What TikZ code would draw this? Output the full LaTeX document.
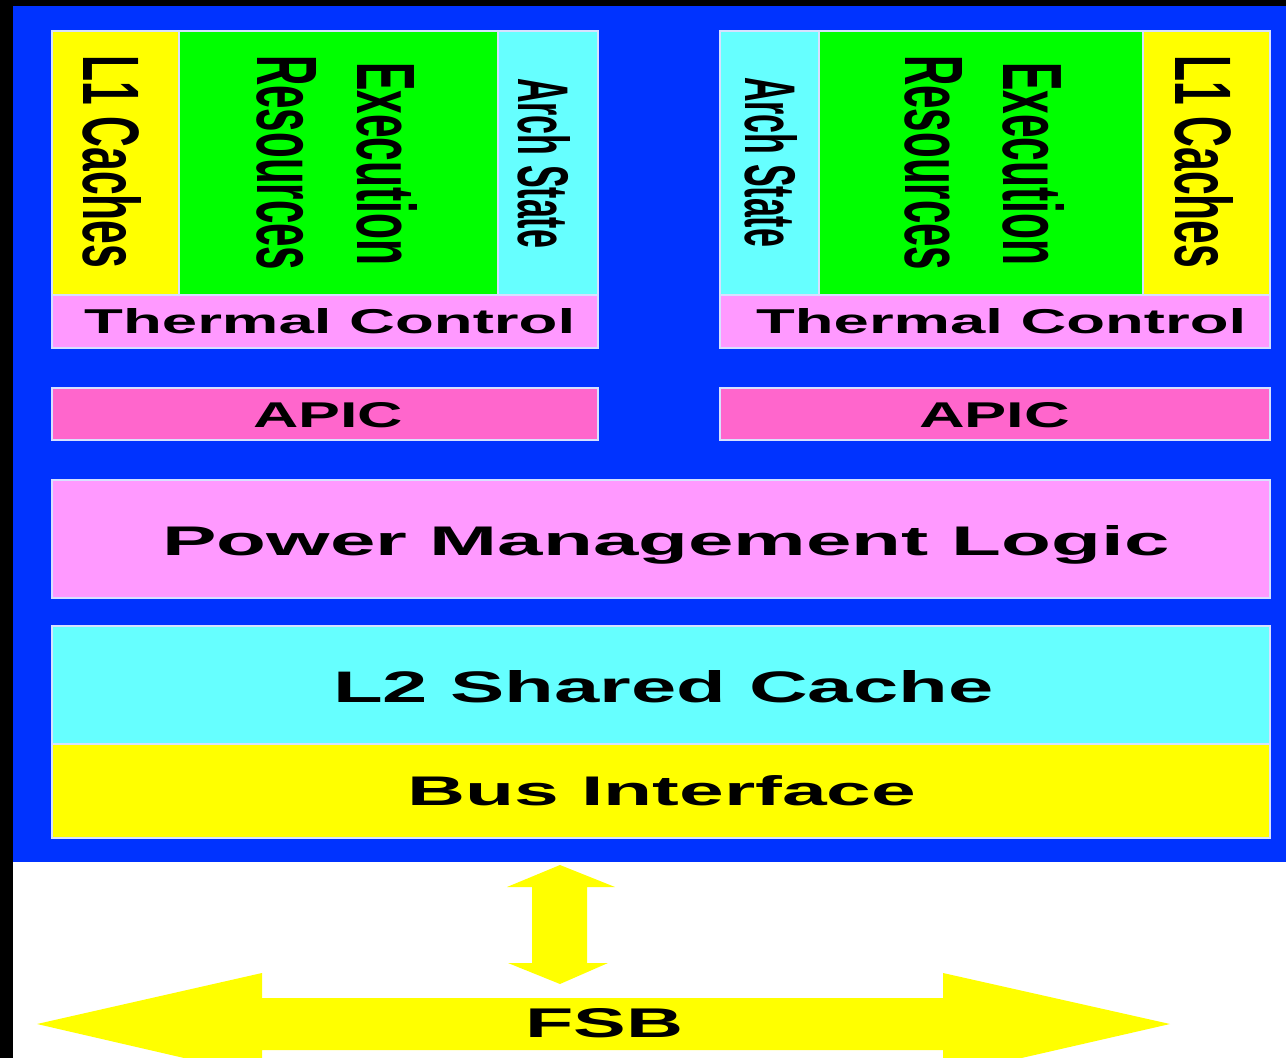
\documentclass[tikz,border=0pt]{standalone}
\usepackage{graphicx}
\usepackage{fontspec}
\setmainfont{Liberation Sans}
\definecolor{chipblue}{RGB}{0,51,255}
\definecolor{cyel}{RGB}{255,255,0}
\definecolor{cgreen}{RGB}{0,255,0}
\definecolor{ccyan}{RGB}{102,255,255}
\definecolor{cpink}{RGB}{255,153,255}
\definecolor{capic}{RGB}{255,102,204}
\definecolor{edgec}{RGB}{215,225,255}
\newcommand{\fitH}[3]{\resizebox{#1pt}{#2pt}{\bfseries #3}}
\newcommand{\fitV}[3]{\resizebox{#1pt}{#2pt}{\bfseries #3}}
\begin{document}
\begin{tikzpicture}[x=1pt,y=-1pt,
  blk/.style={draw=edgec, line width=1.3pt},
  vtxt/.style={rotate=-90, anchor=base west, inner sep=0pt},
  htxt/.style={anchor=base west, inner sep=0pt},
  arrowfill/.style={fill=cyel, draw=none}]
\useasboundingbox (0,0) rectangle (1286,1058);
\clip (0,0) rectangle (1286,1058);
% background
\fill[white] (0,0) rectangle (1286,1058);
\fill[black] (0,0) rectangle (1286,6);
\fill[black] (0,0) rectangle (13,1058);
\fill[chipblue] (13,6) rectangle (1286,862);

% left core
\path[blk, fill=cyel]   (52,31) rectangle (179,295);
\path[blk, fill=cgreen] (179,31) rectangle (498,295);
\path[blk, fill=ccyan]  (498,31) rectangle (598,295);
\path[blk, fill=cpink]  (52,295) rectangle (598,348);
% right core
\path[blk, fill=ccyan]  (720,31) rectangle (819,295);
\path[blk, fill=cgreen] (819,31) rectangle (1143,295);
\path[blk, fill=cyel]   (1143,31) rectangle (1270,295);
\path[blk, fill=cpink]  (720,295) rectangle (1270,348);
% APIC
\path[blk, fill=capic] (52,388) rectangle (598,440);
\path[blk, fill=capic] (720,388) rectangle (1270,440);
% shared blocks
\path[blk, fill=cpink] (52,480) rectangle (1270,598);
\path[blk, fill=ccyan] (52,626) rectangle (1270,744);
\path[blk, fill=cyel]  (52,744) rectangle (1270,838);

% vertical labels
\node[vtxt] (l1a)  at (83,55)   {\fitV{213}{58}{L1 Caches}};
\node[vtxt] (exa)  at (357,62)  {\fitV{203}{60}{Execution}};
\node[vtxt] (rsa)  at (257,55)  {\fitV{215}{59}{Resources}};
\node[vtxt] (ara)  at (518,78)  {\fitV{170}{52}{Arch State}};
\node[vtxt] (l1b)  at (1175,55) {\fitV{213}{58}{L1 Caches}};
\node[vtxt] (exb)  at (1003,62) {\fitV{203}{61}{Execution}};
\node[vtxt] (rsb)  at (905,55)  {\fitV{215}{57}{Resources}};
\node[vtxt] (arb)  at (745,77)  {\fitV{170}{52}{Arch State}};

% horizontal labels
\node[htxt] (tca) at (84,333)   {\fitH{491}{25}{Thermal Control}};
\node[htxt] (tcb) at (756,333)  {\fitH{490}{25}{Thermal Control}};
\node[htxt] (apa) at (253,427)  {\fitH{150}{25}{APIC}};
\node[htxt] (apb) at (919,427)  {\fitH{151}{25}{APIC}};
\node[htxt] (pml) at (162,555)  {\fitH{1007}{30}{Power Management Logic}};
\node[htxt] (l2c) at (333,702)  {\fitH{660}{32}{L2 Shared Cache}};
\node[htxt] (bif) at (407,805)  {\fitH{509}{30}{Bus Interface}};

% vertical double arrow
\coordinate (vtop) at (560,865);
\coordinate (vbot) at (560,984);
\path[arrowfill] (vtop) -- (615,887) -- (587,887) -- (587,963) -- (608,963)
  -- (vbot) -- (508,963) -- (532,963) -- (532,887) -- (507,887) -- cycle;

% FSB double arrow
\coordinate (fl) at (37,1024);
\coordinate (fr) at (1170,1024);
\path[arrowfill] (fl) -- (262,973) -- (262,998) -- (943,998) -- (943,973)
  -- (fr) -- (943,1076) -- (943,1050) -- (262,1050) -- (262,1076) -- cycle;
\node[htxt] (fsb) at (525,1037) {\fitH{158}{29}{FSB}};
\end{tikzpicture}
\end{document}
